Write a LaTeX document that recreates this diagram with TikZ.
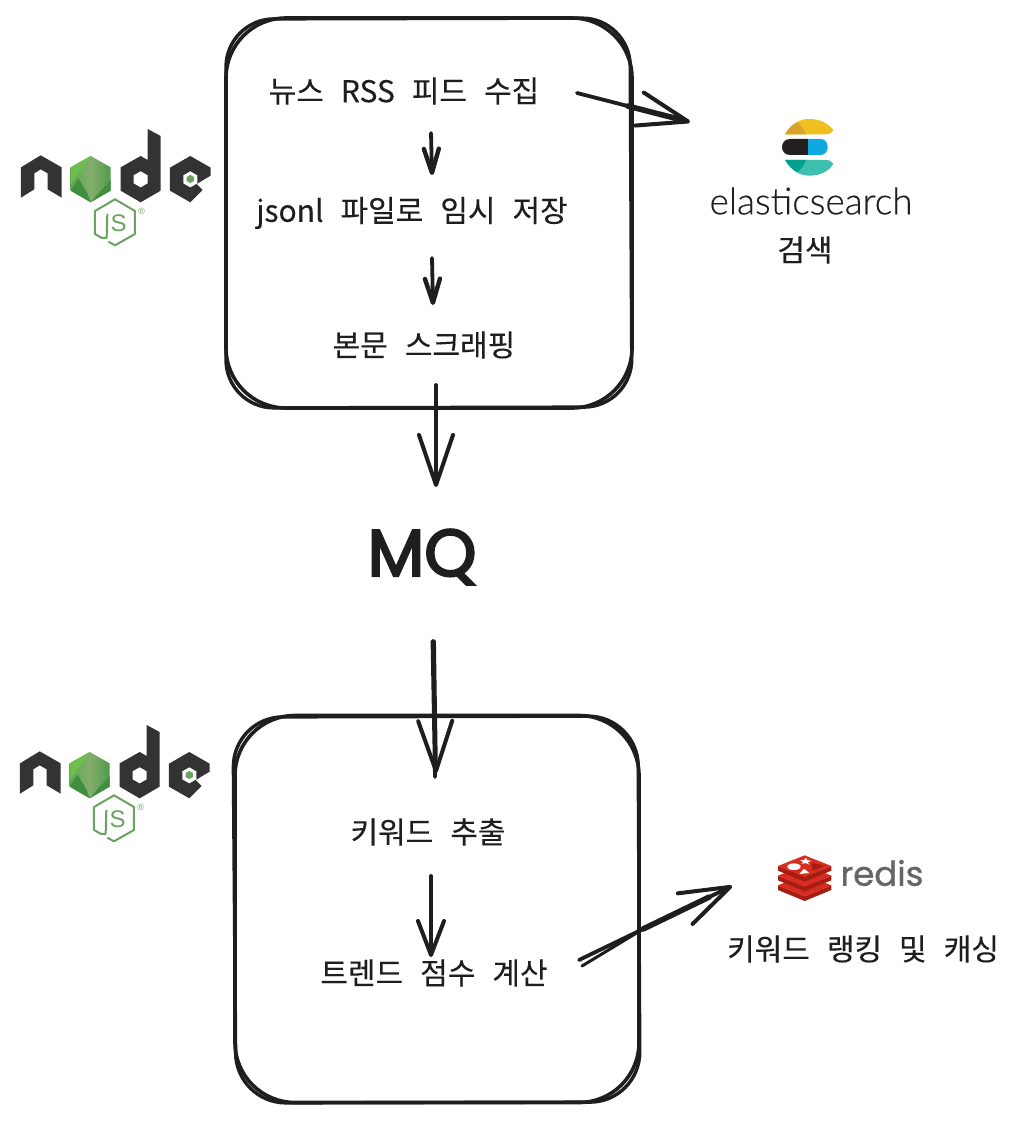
\documentclass[tikz,border=0pt]{standalone}
\usepackage{fontspec}
\setmainfont{Liberation Sans}
\newfontfamily\krfont[FakeBold=0.2]{Noto Sans CJK KR}
\newfontfamily\krplain[FakeBold=0.2]{Noto Sans CJK KR}
\newfontfamily\mqfont[FakeBold=3.5]{Poppins}
\newfontfamily\esfont[FakeBold=0.3]{Lato Light}
\newfontfamily\rdfont[FakeBold=1]{Poppins}
\usetikzlibrary{arrows.meta,shadings,calc}
\definecolor{ink}{HTML}{1E1E1E}
\definecolor{nodedark}{HTML}{333333}
\definecolor{nodegreen}{HTML}{6AA35F}
\definecolor{rdbright}{HTML}{D82C20}
\definecolor{rddark}{HTML}{A41E11}
\newcommand{\lblsetup}{\krfont\fontsize{30}{34}\selectfont\spaceskip 17pt plus 0pt minus 0pt\relax}
\tikzset{
  sketchbox/.style={draw=ink,line width=3.6pt,rounded corners=60pt,inner sep=0pt},
  sketchline/.style={draw=ink,line width=3.8pt,line cap=round,line join=round},
  boxline/.style={draw=ink,line width=3.4pt,line cap=round,line join=round},
  bigtip/.style={sketchline,-{Straight Barb[length=50pt,width=34pt,line width=4pt,round]}},
  smalltip/.style={sketchline,-{Straight Barb[length=24pt,width=15pt,line width=4.4pt,round]}},
  midtip/.style={sketchline,-{Straight Barb[length=34pt,width=26pt,line width=4pt,round]}},
  thickpart/.style={sketchline,line width=5.6pt},
  label/.style={text=ink,inner sep=0pt,font=\lblsetup},
}
\definecolor{HexA}{HTML}{5EA94F}
\definecolor{HexB}{HTML}{4F9A48}
\definecolor{HexC}{HTML}{84AD6E}
\definecolor{HexD}{HTML}{6CBF4B}
\definecolor{HexE}{HTML}{3F8F3F}
\newcommand{\nodelogo}[3]{%
\begin{scope}[shift={(#1,#2)},x=0.3333pt,y=-0.3333pt]
  \fill[nodedark] (63,172)--(122,136)--(185,172)--(185,263)--(143,238)--(143,190)--(122,178)--(103,190)--(103,238)--(63,263)--cycle;
  \shade[left color=HexA,right color=HexB,middle color=HexC] (272,138)--(332,172)--(332,242)--(272,277)--(212,242)--(212,172)--cycle;
  \fill[HexD] (272,138)--(212,172)--(212,222)--(240,185)--cycle;
  \fill[HexE] (212,242)--(272,277)--(262,250)--(235,205)--(212,242)--cycle;
  \fill[HexE] (332,210)--(332,242)--(272,277)--(300,245)--cycle;
  \fill[nodedark] (422,138)--(443,150)--(443,57)--(482,78)--(482,242)--(422,277)--(362,242)--(362,172)--cycle;
  \fill[white] (422,184)--(443,196)--(443,220)--(422,232)--(401,220)--(401,196)--cycle;
  \fill[nodedark] (571,138)--(632,173)--(632,197)--(590,222)--(608,240)--(571,277)--(510,242)--(510,173)--cycle;
  \fill[white] (571,184)--(592,196)--(592,220)--(571,232)--(550,220)--(550,196)--cycle;
  \fill[nodegreen] (571,195)--(582,201)--(582,213)--(571,219)--(560,213)--(560,201)--cycle;
  \draw[nodegreen,line width=2pt,line join=round] (325,395)--(345,406)--(405,372)--(405,303)--(345,268)--(285,303)--(285,372)--(306,384)--(320,384)--(322,312);
  \node[text=nodegreen,inner sep=0pt,font=\fontsize{24}{24}\selectfont] (#3js) at (356,340) {S};
  \node[text=nodegreen,inner sep=0pt,font=\fontsize{9}{9}\selectfont] (#3reg) at (425,305) {®};
\end{scope}}
\newcommand{\redislayer}[1]{%
  \fill[rddark] (174,78+#1)--(254,111+#1)--(334,78+#1)--(334,92+#1)--(254,125+#1)--(174,92+#1)--cycle;
  \fill[rdbright] (174,78+#1)--(254,46+#1)--(334,78+#1)--(254,111+#1)--cycle;
}
\begin{document}
\begin{tikzpicture}[x=1pt,y=-1pt]
\useasboundingbox (0,0) rectangle (1018,1126);
\fill[white] (0,0) rectangle (1018,1126);

% boxes
\node[sketchbox,minimum width=406pt,minimum height=390pt] (boxa) at (429,213) {};
\draw[boxline,rounded corners=48pt] (226,19) -- (630,18) -- (632,407) -- (226,408) -- cycle;
\node[sketchbox,minimum width=404pt,minimum height=387pt] (boxb) at (437,909) {};
\draw[boxline,rounded corners=50pt] (233,717) -- (638,716) -- (640,1102) -- (236,1103) -- cycle;

% texts
\node[label] (rss) at (404,91) {뉴스 RSS 피드 수집};
\node[label] (jsonl) at (412,213) {jsonl 파일로 임시 저장};
\node[label] (scrape) at (424,345) {본문 스크래핑};
\node[text=ink,inner sep=0pt,font=\mqfont\fontsize{66}{68}\selectfont] (mq) at (422,557) {MQ};
\node[label] (keyword) at (428,832) {키워드 추출};
\node[label] (score) at (434,973) {트렌드 점수 계산};
\node[label] (rank) at (863,949) {키워드 랭킹 및 캐싱};
\node[text=ink,inner sep=0pt,font=\krplain\fontsize{30}{34}\selectfont] (search) at (805,250) {검색};
\node[text=black!88,inner sep=0pt,font=\esfont\fontsize{37}{40}\selectfont] (estext) at (811,201) {elasticsearch};
\node[text=black!60,inner sep=0pt,font=\rdfont\fontsize{34}{40}\selectfont] (rdtext) at (882,873) {redis};

% logos
\nodelogo{0}{110}{a}
\nodelogo{-1}{706}{b}

% elasticsearch logo
\begin{scope}[shift={(690,100)},x=0.3333pt,y=-0.3333pt]
  \definecolor{EsY}{HTML}{F0C01F}\definecolor{EsO}{HTML}{D9A32B}
  \definecolor{EsK}{HTML}{231F20}\definecolor{EsB}{HTML}{0FA8E0}
  \definecolor{EsT}{HTML}{3FBFB0}\definecolor{EsG}{HTML}{00A08F}
  \fill[EsY] (285,103) .. controls (305,70) and (330,57) .. (357,57) .. controls (390,57) and (415,70) .. (430,90) .. controls (425,100) and (418,103) .. (405,103) -- cycle;
  \fill[EsO] (285,103) .. controls (295,85) and (308,72) .. (322,67) .. controls (335,78) and (342,90) .. (348,103) -- cycle;
  \fill[EsK] (300,117) -- (354,117) -- (354,165) -- (300,165) .. controls (268,165) and (268,117) .. (300,117) -- cycle;
  \fill[EsB] (354,117) -- (392,117) .. controls (420,117) and (420,165) .. (392,165) -- (354,165) -- cycle;
  \fill[EsT] (285,180) -- (405,180) .. controls (418,180) and (425,183) .. (430,192) .. controls (415,215) and (390,227) .. (357,227) .. controls (330,227) and (305,213) .. (285,180) -- cycle;
  \fill[EsG] (285,180) -- (348,180) .. controls (342,195) and (335,207) .. (322,216) .. controls (308,210) and (295,197) .. (285,180) -- cycle;
\end{scope}

% redis logo
\begin{scope}[shift={(720,840)},x=0.3333pt,y=-0.3333pt]
  \redislayer{58}
  \redislayer{29}
  \redislayer{0}
  \fill[white] (222,80) ellipse[x radius=20,y radius=10];
  \fill[white] (258,53)--(262,61)--(274,62)--(264,67)--(268,74)--(256,69)--(244,72)--(250,66)--(240,61)--(252,60)--cycle;
  \fill[white] (252,86)--(268,99)--(238,102)--cycle;
  \fill[rddark] (276,68)--(312,78)--(278,92)--cycle;
\end{scope}

% connectors
\coordinate (rssout) at (577,93);
\coordinate (esin) at (690,122);
\coordinate (rss2) at (431,133);
\coordinate (json1) at (432,175);
\coordinate (json2) at (432,258);
\coordinate (scr1) at (433,305);
\coordinate (scr2) at (436,385);
\coordinate (mq1) at (436,487);
\coordinate (mq2) at (434,641);
\coordinate (key1) at (436,773);
\coordinate (key2) at (431,876);
\coordinate (sco1) at (431,957);
\coordinate (scoout) at (579,960);
\coordinate (scoout2) at (582,966);
\coordinate (rdin) at (732,886);
\coordinate (rdmerge) at ($(scoout)!0.42!(rdin)$);
\draw[bigtip] (rssout) -- (esin);
\draw[thickpart] ($(rssout)!0.45!(esin)$) -- ($(rssout)!0.9!(esin)$);
\draw[smalltip] (rss2) -- (json1);
\draw[smalltip] (json2) -- (scr1);
\draw[bigtip] (scr2) -- (mq1);
\draw[bigtip] (mq2) -- (key1);
\draw[sketchline] ([xshift=-1.5pt]mq2) -- ([xshift=-1pt,yshift=-4pt]key1);
\draw[midtip] (key2) -- (sco1);
\draw[bigtip] (scoout) -- (rdin);
\draw[sketchline,line width=3pt] (scoout2) -- (rdmerge);
\draw[thickpart] (rdmerge) -- ($(scoout)!0.85!(rdin)$);
\end{tikzpicture}
\end{document}
